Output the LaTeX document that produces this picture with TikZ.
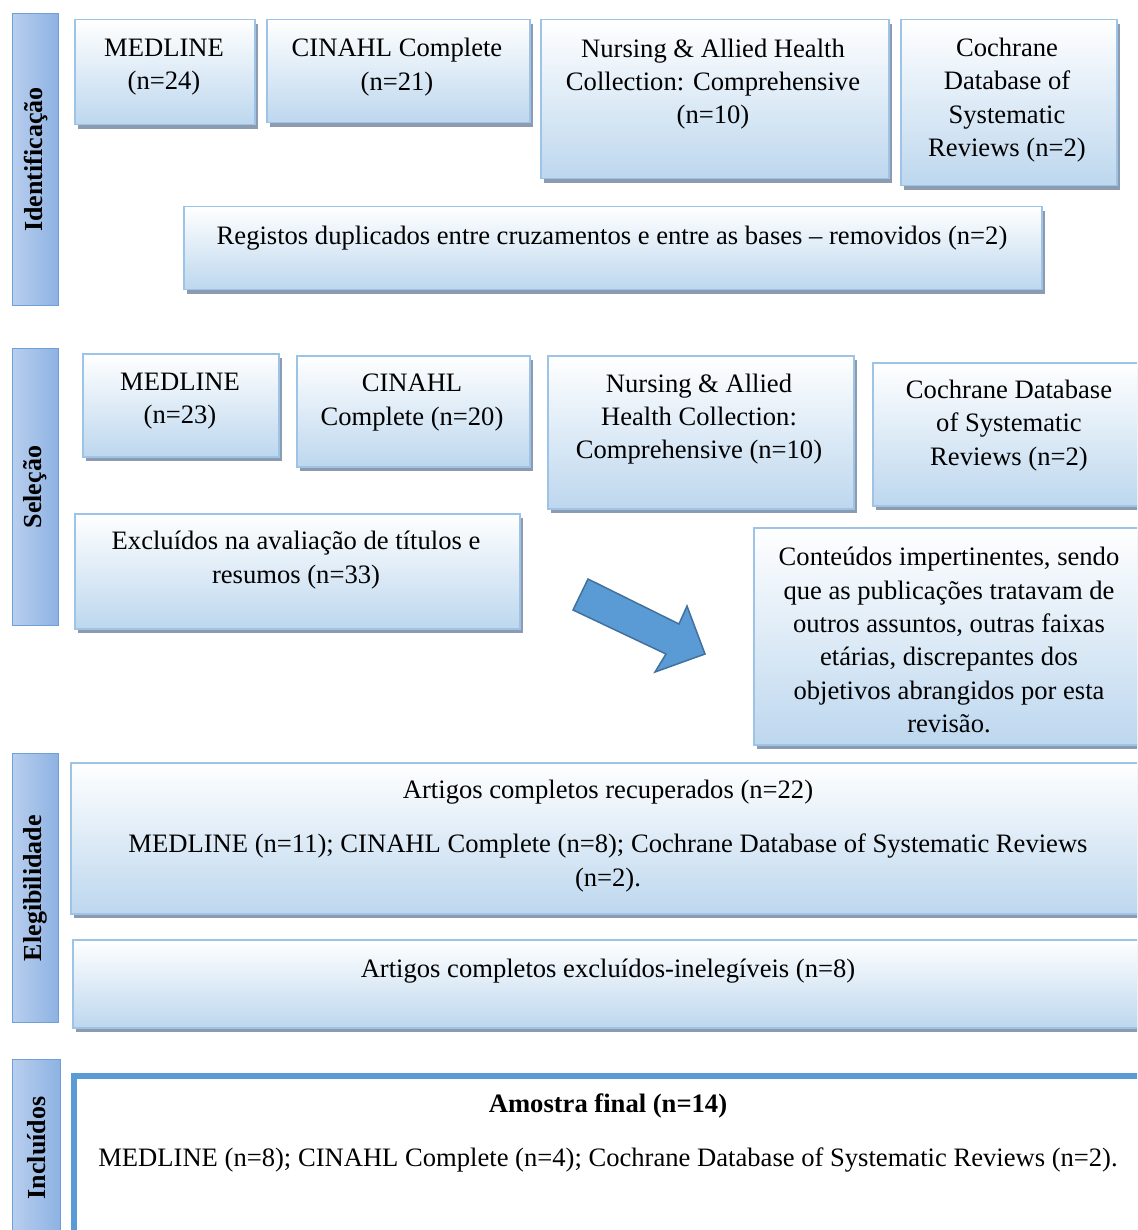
\documentclass[tikz,border=0pt]{standalone}
\usepackage{fontspec}
\setmainfont{Liberation Serif}
\usetikzlibrary{shadows}
\definecolor{bxborder}{RGB}{157,195,230}
\definecolor{bxbottom}{RGB}{189,215,238}
\definecolor{shd}{RGB}{140,155,175}
\definecolor{lblleft}{RGB}{184,206,238}
\definecolor{lblright}{RGB}{141,178,227}
\definecolor{lblborder}{RGB}{111,159,216}
\definecolor{arrfill}{RGB}{91,155,213}
\definecolor{arrborder}{RGB}{65,113,156}
\tikzset{
  box/.style={draw=bxborder, line width=1.5pt, top color=white, bottom color=bxbottom,
    anchor=north west, inner sep=0pt,
    drop shadow={shadow xshift=3pt, shadow yshift=-4pt, fill=shd, opacity=1}},
  lbl/.style={draw=lblborder, line width=1.2pt, left color=lblleft, right color=lblright,
    anchor=north west, inner sep=0pt, minimum width=46pt},
  lbltxt/.style={rotate=90, font=\fontsize{26}{30}\selectfont\bfseries},
  txt/.style={align=center, inner sep=0pt, font=\fontsize{26.6}{33.3}\selectfont, yshift=-2pt},
}
\begin{document}
\begin{tikzpicture}[x=1pt,y=-1pt]
\useasboundingbox (0,0) rectangle (1137,1230);
\clip (0,0) rectangle (1137,1230);
% side labels
\node[lbl, minimum height=292pt] (L1) at (12,13) {};
\node[lbltxt] (L1t) at (L1.center) {Identificação};
\node[lbl, minimum height=277pt] (L2) at (12,348) {};
\node[lbltxt] (L2t) at (L2.center) {Seleção};
\node[lbl, minimum height=269pt] (L3) at (12,753) {};
\node[lbltxt] (L3t) at (L3.center) {Elegibilidade};
\node[lbl, minimum height=200pt, minimum width=48pt] (L4) at (12,1059) {};
\node[lbltxt] (L4t) at (37,1148) {Incluídos};
% identification
\node[box, minimum width=180pt, minimum height=105pt] (i1) at (74,19) {};
\node[txt] (i1t) at (164,65) {MEDLINE\\(n=24)};
\node[box, minimum width=263pt, minimum height=103pt] (i2) at (266,19) {};
\node[txt] (i2t) at (397,65) {CINAHL Complete\\(n=21)};
\node[box, minimum width=348pt, minimum height=159pt] (i3) at (540,19) {};
\node[txt] (i3t) at (713,82) {Nursing \& Allied Health\\Collection: Comprehensive\\(n=10)};
\node[box, minimum width=216pt, minimum height=166pt] (i4) at (900,19) {};
\node[txt] (i4t) at (1007,98) {Cochrane\\Database of\\Systematic\\Reviews (n=2)};
\node[box, minimum width=858pt, minimum height=83pt] (dup) at (183,206) {};
\node[txt] (dupt) at (612,236) {Registos duplicados entre cruzamentos e entre as bases -- removidos (n=2)};
% selection
\node[box, minimum width=196pt, minimum height=103pt] (s1) at (82,353) {};
\node[txt] (s1t) at (180,399) {MEDLINE\\(n=23)};
\node[box, minimum width=233pt, minimum height=111pt] (s2) at (296,355) {};
\node[txt] (s2t) at (412,400.5) {CINAHL\\Complete (n=20)};
\node[box, minimum width=306pt, minimum height=153pt] (s3) at (547,355) {};
\node[txt] (s3t) at (699,417) {Nursing \& Allied\\Health Collection:\\Comprehensive (n=10)};
\node[box, minimum width=275pt, minimum height=143pt] (s4) at (872,362) {};
\node[txt] (s4t) at (1009,423.5) {Cochrane Database\\of Systematic\\Reviews (n=2)};
\node[box, minimum width=445pt, minimum height=115pt] (exc) at (74,513) {};
\node[txt] (exct) at (296,558) {Excluídos na avaliação de títulos e\\resumos (n=33)};
\node[box, minimum width=394pt, minimum height=217pt] (cont) at (753,527) {};
\node[txt] (contt) at (949,638) {Conteúdos impertinentes, sendo\\que as publicações tratavam de\\outros assuntos, outras faixas\\etárias, discrepantes dos\\objetivos abrangidos por esta\\revisão.};
% block arrow
\filldraw[fill=arrfill, draw=arrborder, line width=1.5pt, line join=miter]
  (588,579) -- (679,624) -- (687,606) -- (705,654) -- (655,672) -- (666,654) -- (573,610) -- cycle;
% eligibility
\node[box, minimum width=1077pt, minimum height=151pt] (e1) at (70,762) {};
\node[txt] (e1a) at (608,790) {Artigos completos recuperados (n=22)};
\node[txt] (e1b) at (608,861) {MEDLINE (n=11); CINAHL Complete (n=8); Cochrane Database of Systematic Reviews\\(n=2).};
\node[box, minimum width=1075pt, minimum height=88pt] (e2) at (72,939) {};
\node[txt] (e2t) at (608,969) {Artigos completos excluídos-inelegíveis (n=8)};
% included
\node[draw=arrfill, line width=6pt, fill=white, anchor=north west, minimum width=1080pt, minimum height=200pt, inner sep=0pt] (inc) at (71,1073) {};
\node[txt, font=\fontsize{26.6}{33.3}\selectfont\bfseries] (inca) at (608,1104) {Amostra final (n=14)};
\node[txt] (incb) at (608,1158) {MEDLINE (n=8); CINAHL Complete (n=4); Cochrane Database of Systematic Reviews (n=2).};
\end{tikzpicture}
\end{document}
